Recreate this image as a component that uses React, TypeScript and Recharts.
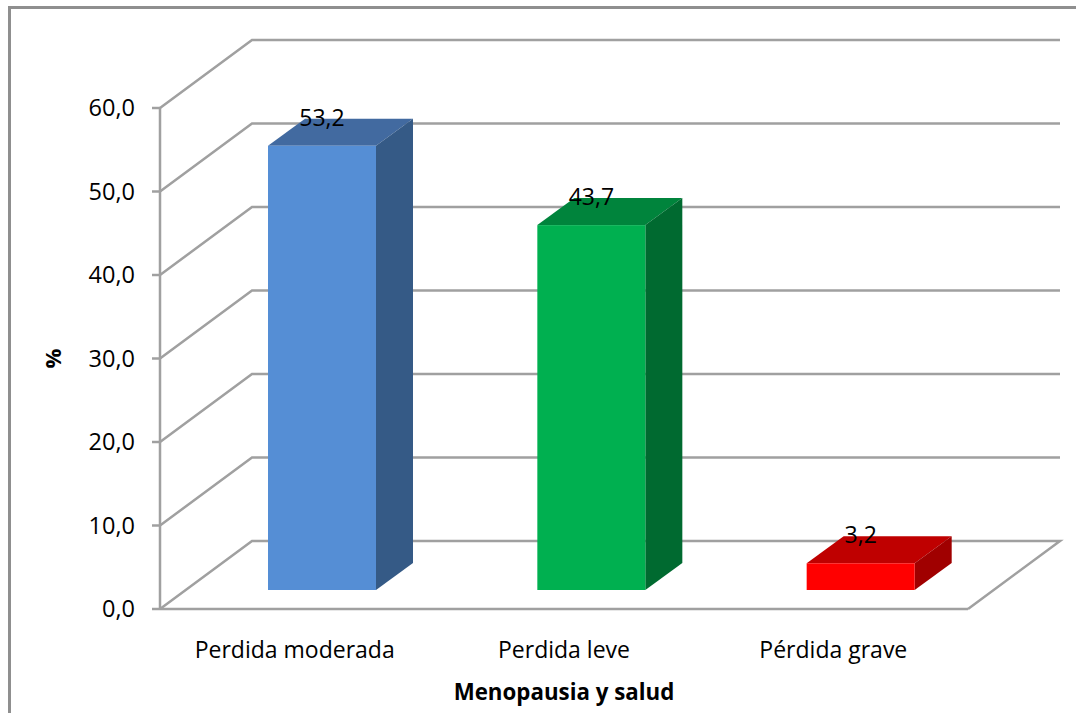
import { BarChart, Bar, XAxis, YAxis, CartesianGrid, LabelList } from "recharts";

const CATEGORIES = ["Perdida moderada", "Perdida leve", "Pérdida grave"];
const VALUES = [53.2, 43.7, 3.2];
const Y_TICKS = [0, 10, 20, 30, 40, 50, 60];

const chartData = CATEGORIES.map((name, i) => ({ name, value: VALUES[i] }));

// front / top / side colours of each column
const FACES = [
  ["#558ed5", "#426aa0", "#355a86"],
  ["#00b050", "#00843c", "#006a30"],
  ["#ff0000", "#bf0000", "#a00000"],
];

const GRAY = "#a0a0a0";
const FONT = "'Open Sans', sans-serif";
// depth of the floor and of the columns
const WALL_DX = 92;
const WALL_DY = -68;
const BAR_SHIFT_X = 27;
const BAR_SHIFT_Y = -19;
const BAR_DX = 37;
const BAR_DY = -27;

const formatNumber = (v: number) => v.toFixed(1).replace(".", ",");

const Column = (props: any) => {
  const { x, y, width, height, index } = props;
  const [front, top, side] = FACES[index];
  const l = x + BAR_SHIFT_X;
  const r = l + width;
  const t = y + BAR_SHIFT_Y;
  const b = t + height;
  return (
    <g>
      <path
        d={`M${l},${t}L${l + BAR_DX},${t + BAR_DY}L${r + BAR_DX},${t + BAR_DY}L${r},${t}Z`}
        fill={top}
      />
      <path
        d={`M${r},${t}L${r + BAR_DX},${t + BAR_DY}L${r + BAR_DX},${b + BAR_DY}L${r},${b}Z`}
        fill={side}
      />
      <rect x={l} y={t} width={width} height={height} fill={front} />
    </g>
  );
};

const WallLine = (props: any) => {
  const { x1, x2, y1, index } = props;
  const isFloor = index === 0 || y1 > 600;
  const bx1 = x1 + WALL_DX;
  const bx2 = x2 + WALL_DX;
  const by = y1 + WALL_DY;
  const d = isFloor
    ? `M${x1},${y1}L${bx1},${by}L${bx2},${by}L${x2},${y1}`
    : `M${x1},${y1}L${bx1},${by}L${bx2},${by}`;
  return <path key={props.key} d={d} fill="none" stroke={GRAY} strokeWidth={2.5} />;
};

const ValueLabel = (props: any) => {
  const { x, y, width, value } = props;
  return (
    <text
      x={x + width / 2 + BAR_SHIFT_X}
      y={y - 48}
      textAnchor="middle"
      dominantBaseline="central"
      fontFamily={FONT}
      fontSize={23}
      fill="#000"
    >
      {formatNumber(value)}
    </text>
  );
};

const PercentTitle = (props: any) => {
  const { viewBox } = props;
  const cx = 52;
  const cy = viewBox.y + viewBox.height / 2;
  return (
    <text
      x={cx}
      y={cy}
      transform={`rotate(-90, ${cx}, ${cy})`}
      textAnchor="middle"
      dominantBaseline="central"
      fontFamily={FONT}
      fontSize={22}
      fontWeight={700}
      fill="#000"
    >
      %
    </text>
  );
};

export default function App() {
  return (
    <div style={{ position: "absolute", left: 0, top: 0, width: 1076, height: 713, overflow: "hidden", background: "#fff" }}>
      <div
        style={{
          position: "absolute",
          left: 8,
          top: 6,
          width: 1076,
          height: 720,
          borderLeft: "3px solid #8f8f8f",
          borderTop: "3px solid #8f8f8f",
        }}
      />
      <BarChart
        width={1076}
        height={713}
        data={chartData}
        margin={{ top: 108, right: 108, bottom: 0, left: 0 }}
        barSize={108}
        style={{ position: "absolute", left: 0, top: 0 }}
      >
        <CartesianGrid vertical={false} horizontal={WallLine} syncWithTicks />
        <XAxis
          dataKey="name"
          height={104}
          tickLine={false}
          axisLine={{ stroke: GRAY, strokeWidth: 2.5 }}
          tick={{ fill: "#000", fontFamily: FONT, fontSize: 23 }}
          tickMargin={27}
          interval={0}
          label={{
            value: "Menopausia y salud",
            position: "insideBottom",
            offset: 13,
            fill: "#000",
            fontFamily: FONT,
            fontSize: 22.3,
            fontWeight: 700,
          }}
        />
        <YAxis
          width={160}
          domain={[0, 60]}
          ticks={Y_TICKS}
          interval={0}
          tickFormatter={formatNumber}
          tickSize={8}
          tickMargin={17}
          tickLine={{ stroke: GRAY, strokeWidth: 2.5 }}
          axisLine={{ stroke: GRAY, strokeWidth: 2.5 }}
          tick={{ fill: "#000", fontFamily: FONT, fontSize: 23.5 }}
          label={{ content: PercentTitle }}
        />
        <Bar dataKey="value" shape={Column} isAnimationActive={false}>
          <LabelList dataKey="value" content={ValueLabel} />
        </Bar>
      </BarChart>
    </div>
  );
}
